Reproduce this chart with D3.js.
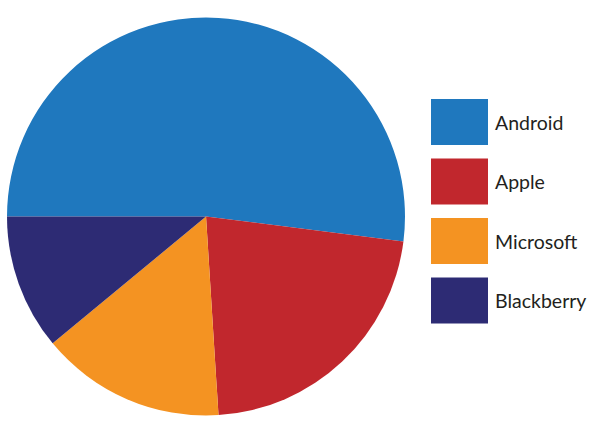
<!DOCTYPE html>
<html>
<head>
<meta charset="utf-8">
<script src="https://cdnjs.cloudflare.com/ajax/libs/d3/7.8.5/d3.min.js"></script>
<style>
  body { margin: 0; background: #fff; }
  svg { display: block; }
  .legend text { font-family: Lato, "Open Sans", sans-serif; font-size: 19.5px; fill: #231f20; }
</style>
</head>
<body>
<svg id="chart" width="606" height="431"></svg>
<script>
const categories = ["Android", "Apple", "Microsoft", "Blackberry"];
const shares = [52, 22, 15, 11];
const colors = ["#1f78be", "#c1272d", "#f49322", "#2d2b74"];

const width = 606;
const height = 431;
const cx = 206, cy = 216.5, radius = 199;

const svg = d3.select("#chart");

const data = categories.map(function (c, i) {
  return { name: c, value: shares[i] };
});

const color = d3.scaleOrdinal().domain(categories).range(colors);

// pie starts at 9 o'clock and runs clockwise over the top
const pie = d3.pie()
  .sort(null)
  .value(function (d) { return d.value; })
  .startAngle(-Math.PI / 2)
  .endAngle(1.5 * Math.PI);

const arc = d3.arc().innerRadius(0).outerRadius(radius);

svg.append("g")
  .attr("transform", `translate(${cx},${cy})`)
  .selectAll("path")
  .data(pie(data))
  .enter()
  .append("path")
  .attr("d", arc)
  .attr("fill", function (d) { return color(d.data.name); });

// legend
const legendY = d3.scaleBand()
  .domain(categories)
  .range([99, 323.5])
  .paddingInner(0.227)
  .paddingOuter(0);

const legend = svg.append("g")
  .attr("class", "legend")
  .selectAll("g")
  .data(categories)
  .enter()
  .append("g")
  .attr("transform", function (d) { return `translate(431,${legendY(d)})`; });

legend.append("rect")
  .attr("width", 57)
  .attr("height", legendY.bandwidth())
  .attr("fill", function (d) { return color(d); });

legend.append("text")
  .attr("x", 64)
  .attr("y", 30.5)
  .text(function (d) { return d; });
</script>
</body>
</html>
